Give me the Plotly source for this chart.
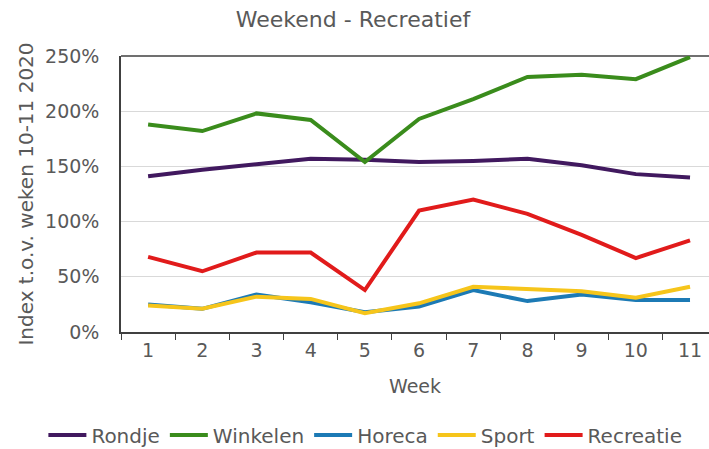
import plotly.graph_objects as go

weeks = ["1", "2", "3", "4", "5", "6", "7", "8", "9", "10", "11"]
rondje = [141, 147, 152, 157, 156, 154, 155, 157, 151, 143, 140]
winkelen = [188, 182, 198, 192, 154, 193, 211, 231, 233, 229, 249]
horeca = [25, 21, 34, 27, 18, 23, 38, 28, 34, 29, 29]
sport = [24, 21, 32, 30, 17, 26, 41, 39, 37, 31, 41]
recreatie = [68, 55, 72, 72, 38, 110, 120, 107, 88, 67, 83]

series = [
    ("Rondje", rondje, "#41195f"),
    ("Winkelen", winkelen, "#3a8c1c"),
    ("Horeca", horeca, "#1c7ab5"),
    ("Sport", sport, "#f6c51b"),
    ("Recreatie", recreatie, "#e11b1b"),
]

font = "DejaVu Sans"
gray = "#595959"

fig = go.Figure()
for name, vals, col in series:
    fig.add_trace(go.Scatter(
        x=weeks, y=[v / 100 for v in vals], name=name, mode="lines",
        line=dict(color=col, width=4),
    ))

# top border of the plot area
fig.add_shape(type="line", xref="paper", yref="paper", x0=0, x1=1, y0=1, y1=1,
              line=dict(color="#404040", width=1.5), layer="below")

fig.update_layout(
    width=709, height=449,
    margin=dict(l=121, r=0, t=56, b=117, autoexpand=False),
    paper_bgcolor="white", plot_bgcolor="white",
    font=dict(family=font, size=19, color=gray),
    title=dict(text="Weekend - Recreatief", x=353 / 709, xanchor="center",
               xref="container", y=1 - 19 / 449, yanchor="middle",
               font=dict(family=font, size=22, color=gray)),
    showlegend=True,
    legend=dict(orientation="h", x=-0.132, xanchor="left", xref="paper",
                y=-0.373, yanchor="middle", yref="paper",
                font=dict(family=font, size=20, color=gray),
                itemwidth=38, tracegroupgap=0),
    xaxis=dict(
        type="category", range=[-0.5, 10.35], automargin=False,
        showgrid=False, showline=True, linecolor="#404040", linewidth=1.5,
        mirror=False, zeroline=False,
        ticks="outside", tickson="boundaries", ticklen=6, tickcolor="#404040",
        tickfont=dict(family=font, size=19, color=gray),
        title=dict(text="Week", standoff=20, font=dict(family=font, size=19, color=gray)),
    ),
    yaxis=dict(
        range=[0, 2.5], tickvals=[0, 0.5, 1, 1.5, 2, 2.5], automargin=False,
        ticktext=["0%", "50%", "100%", "150%", "200%", "250%"],
        showgrid=True, gridcolor="#d9d9d9", gridwidth=1,
        showline=True, linecolor="#404040", linewidth=1.5, mirror=False,
        zeroline=False, ticks="", ticklabelstandoff=16,
        tickfont=dict(family=font, size=19, color=gray),
        title=dict(text="Index t.o.v. weken 10-11 2020", standoff=6,
                   font=dict(family=font, size=20, color=gray)),
    ),
)

fig.write_html("out.html", config={"displayModeBar": False},
               post_script="document.body.style.margin='0';")
